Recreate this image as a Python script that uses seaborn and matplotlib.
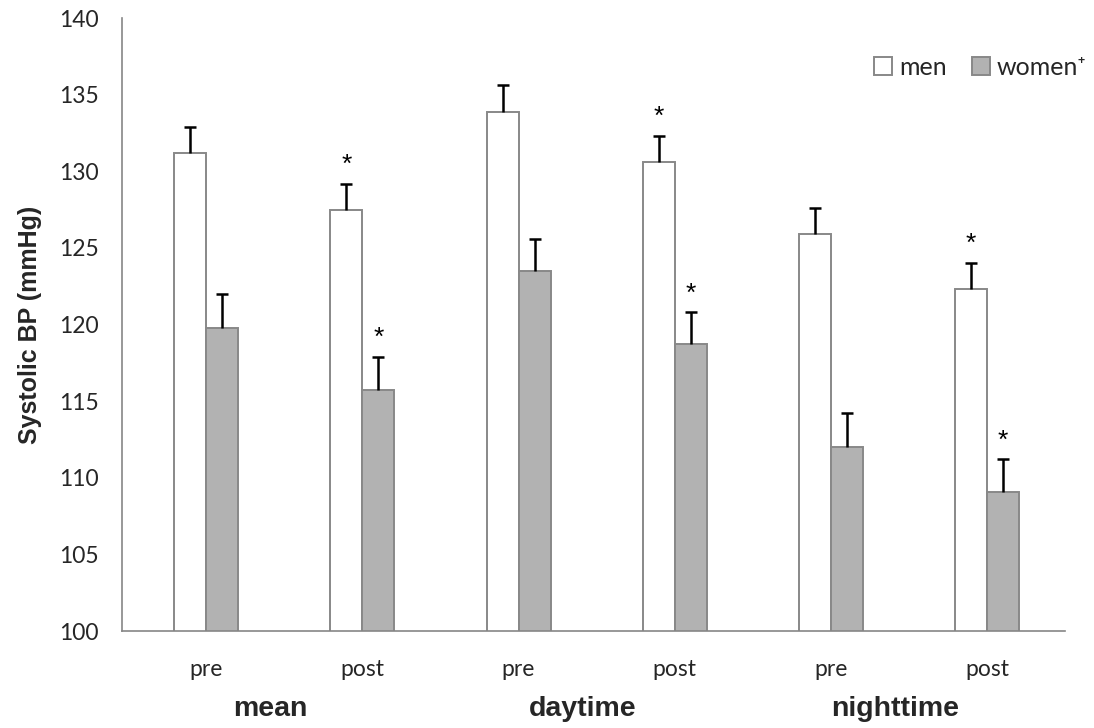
import matplotlib
matplotlib.use("Agg")
import numpy as np
import pandas as pd
import matplotlib.pyplot as plt
import seaborn as sns

# ==========================================
# datos
# ==========================================
periodos = ["mean", "daytime", "nighttime"]
fases = ["pre", "post", "pre", "post", "pre", "post"]
categorias = ["mean pre", "mean post", "daytime pre", "daytime post",
              "nighttime pre", "nighttime post"]

men = [131.2, 127.5, 133.9, 130.6, 125.9, 122.3]
men_err = [1.7, 1.7, 1.7, 1.7, 1.7, 1.7]
women = [119.8, 115.7, 123.5, 118.7, 112.0, 109.1]
women_err = [2.2, 2.2, 2.1, 2.1, 2.2, 2.1]
men_sig = [False, True, False, True, False, True]
women_sig = [False, True, False, True, False, True]

grupos = ["men", "women\u207a"]

df = pd.DataFrame({
    "cat": categorias * 2,
    "sexo": [grupos[0]] * 6 + [grupos[1]] * 6,
    "bp": men + women,
})

# ==========================================
# figura
# ==========================================
sns.set_style("white")
plt.rcParams["font.family"] = ["Lato", "DejaVu Sans"]

fig = plt.figure(figsize=(10.94, 7.28), dpi=100)
ax = fig.add_axes([0.1115, 0.1332, 0.862, 0.842])

sns.barplot(data=df, x="cat", y="bp", hue="sexo", order=categorias,
            hue_order=grupos, palette=["white", "#b2b2b2"], width=0.41,
            edgecolor="#888888", linewidth=1.4, errorbar=None, ax=ax)

# barras de error (solo hacia arriba, sin tope inferior) y asteriscos
for cont, err, sig in zip(ax.containers, [men_err, women_err], [men_sig, women_sig]):
    xs = [p.get_x() + p.get_width() / 2 for p in cont.patches]
    hs = [p.get_height() + p.get_y() for p in cont.patches]
    eb = ax.errorbar(xs, hs, yerr=[np.zeros(len(err)), err], fmt="none",
                     ecolor="black", elinewidth=1.8, capsize=4.5, capthick=1.8)
    eb[1][0].set_visible(False)
    for x, h, e, s in zip(xs, hs, err, sig):
        if s:
            ax.text(x, h + e + 0.45, "*", ha="center", va="bottom",
                    fontsize=19, color="black", family="Liberation Sans")

ax.set_ylim(100, 140)
ax.set_xlim(-0.54, 5.5)
ax.set_yticks(np.arange(100, 141, 5))
ax.set_xticks(range(len(fases)))
ax.set_xticklabels(fases)
ax.tick_params(axis="x", length=0, pad=20, labelsize=16.5)
ax.tick_params(axis="y", length=5, width=1, color="#868686", pad=12, labelsize=16.5)

for lado in ["top", "right"]:
    ax.spines[lado].set_visible(False)
for lado in ["left", "bottom"]:
    ax.spines[lado].set_color("#868686")
    ax.spines[lado].set_linewidth(1.2)

ax.set_xlabel("")
ax.set_ylabel("Systolic BP (mmHg)", fontsize=18, fontweight="bold",
              family="Liberation Sans")
ax.yaxis.set_label_coords(-0.085, 0.5)

# etiquetas de grupo
for i, nombre in enumerate(periodos):
    ax.text(2 * i + 0.41, -0.127, nombre, transform=ax.get_xaxis_transform(),
            ha="center", va="center", fontsize=20.5, fontweight="bold",
            family="Liberation Sans")

# leyenda
handles, labels = ax.get_legend_handles_labels()
ax.legend(handles, labels, loc="upper right", bbox_to_anchor=(1.047, 0.975),
          ncol=2, frameon=False, fontsize=18, handlelength=0.7,
          handleheight=0.7, handletextpad=0.3, columnspacing=1.0)

plt.savefig("out.png", dpi=100)
